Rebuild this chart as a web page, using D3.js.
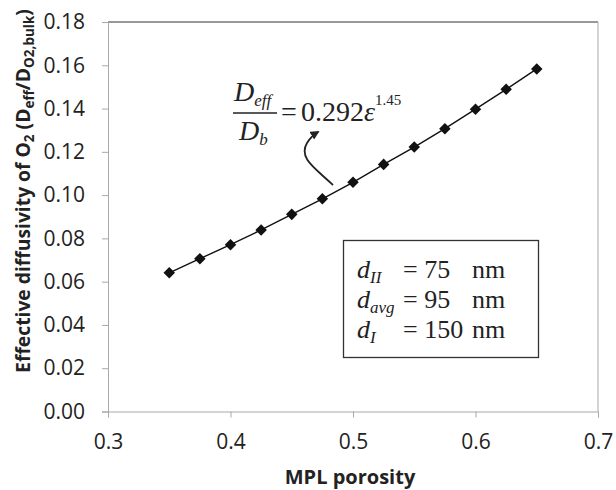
<!DOCTYPE html>
<html lang="en">
<head>
    <meta charset="UTF-8">
    <title>Effective diffusivity vs MPL porosity</title>
    <script src="https://d3js.org/d3.v7.min.js"></script>
    <style>
        body { margin: 0; background: #fff; }
        svg { display: block; }
        .tick text { font-family: "Open Sans", Arial, sans-serif; font-size: 21px; fill: #222; }
        .axis path, .axis line { stroke: #a8a8a8; }
        .eq { font-family: "Liberation Serif", "Times New Roman", serif; fill: #222; }
    </style>
</head>
<body>
<script>
    // data
    const porosity = [0.35, 0.375, 0.4, 0.425, 0.45, 0.475, 0.5, 0.525, 0.55, 0.575, 0.6, 0.625, 0.65];
    const diffusivity = [0.0641, 0.0706, 0.0771, 0.0839, 0.0911, 0.0983, 0.1059, 0.1142, 0.1222, 0.1307, 0.1397, 0.1489, 0.1583];
    const xTicks = [0.3, 0.4, 0.5, 0.6, 0.7];
    const yTicks = [0, 0.02, 0.04, 0.06, 0.08, 0.10, 0.12, 0.14, 0.16, 0.18];
    const boxLines = [
        { d: "II", val: "= 75", unit: "nm" },
        { d: "avg", val: "= 95", unit: "nm" },
        { d: "I", val: "= 150", unit: "nm" }
    ];

    const w = 616, h = 490;
    const pLeft = 108, pRight = 598, pTop = 22, pBottom = 411.5;

    const x = d3.scaleLinear().domain([0.3, 0.7]).range([pLeft, pRight]);
    const y = d3.scaleLinear().domain([0, 0.18]).range([pBottom, pTop]);

    const svg = d3.select("body").append("svg").attr("width", w).attr("height", h);

    // top and right frame
    svg.append("line").attr("x1", pLeft).attr("x2", pRight).attr("y1", pTop).attr("y2", pTop)
        .attr("stroke", "#333").attr("stroke-width", 1.2);
    svg.append("line").attr("x1", pRight).attr("x2", pRight).attr("y1", pTop).attr("y2", pBottom)
        .attr("stroke", "#a8a8a8");

    svg.append("g").attr("class", "axis")
        .attr("transform", `translate(0,${pBottom})`)
        .call(d3.axisBottom(x).tickValues(xTicks).tickFormat(d3.format(".1f")).tickSizeOuter(0).tickSize(6).tickPadding(17));

    svg.append("g").attr("class", "axis")
        .attr("transform", `translate(${pLeft},0)`)
        .call(d3.axisLeft(y).tickValues(yTicks).tickFormat(d3.format(".2f")).tickSizeOuter(0).tickSize(6).tickPadding(17));

    // axis titles
    svg.append("text")
        .attr("x", 350).attr("y", 484)
        .attr("text-anchor", "middle")
        .style("font-family", "'Open Sans', Arial, sans-serif")
        .style("font-size", "20px").style("font-weight", "bold").attr("fill", "#222")
        .text("MPL porosity");

    const yl = svg.append("text")
        .attr("transform", "translate(30,191) rotate(-90)")
        .attr("text-anchor", "middle")
        .style("font-family", "'Open Sans', Arial, sans-serif")
        .style("font-size", "19.3px").style("font-weight", "bold").attr("fill", "#222");
    yl.append("tspan").text("Effective diffusivity of O");
    yl.append("tspan").attr("dy", 4).style("font-size", "13.5px").text("2");
    yl.append("tspan").attr("dy", -4).text(" (D");
    yl.append("tspan").attr("dy", 4).style("font-size", "13.5px").text("eff");
    yl.append("tspan").attr("dy", -4).text("/D");
    yl.append("tspan").attr("dy", 4).style("font-size", "13.5px").text("O2,bulk");
    yl.append("tspan").attr("dy", -4).text(")");

    // series
    const pts = porosity.map((p, i) => [p, diffusivity[i]]);
    svg.append("path")
        .datum(pts)
        .attr("fill", "none").attr("stroke", "#111").attr("stroke-width", 1.4)
        .attr("d", d3.line().x(d => x(d[0])).y(d => y(d[1])));

    svg.selectAll(".pt")
        .data(pts)
        .enter().append("path")
        .attr("class", "pt")
        .attr("transform", d => `translate(${x(d[0])},${y(d[1])})`)
        .attr("d", d3.symbol().type(d3.symbolDiamond2).size(85))
        .attr("fill", "#111");

    // equation
    const eq = svg.append("g").attr("class", "eq");
    const t1 = eq.append("text").attr("x", 234).attr("y", 101).style("font-size", "28px").style("font-style", "italic");
    t1.append("tspan").text("D");
    t1.append("tspan").attr("dy", 5).style("font-size", "17px").text("eff");
    eq.append("line").attr("x1", 233).attr("x2", 277).attr("y1", 113).attr("y2", 113)
        .attr("stroke", "#222").attr("stroke-width", 1.6);
    const t2 = eq.append("text").attr("x", 239).attr("y", 140).style("font-size", "28px").style("font-style", "italic");
    t2.append("tspan").text("D");
    t2.append("tspan").attr("dy", 5).style("font-size", "17px").text("b");
    eq.append("text").attr("x", 281).attr("y", 121).style("font-size", "28px").text("=");
    const t3 = eq.append("text").attr("x", 301).attr("y", 121).style("font-size", "28px");
    t3.append("tspan").text("0.292");
    t3.append("tspan").style("font-style", "italic").text("ε");
    t3.append("tspan").attr("dy", -16).style("font-size", "15px").text("1.45");

    // curved arrow
    svg.append("defs").append("marker")
        .attr("id", "ah").attr("viewBox", "0 0 10 10").attr("refX", 8).attr("refY", 5)
        .attr("markerWidth", 5).attr("markerHeight", 5).attr("orient", "auto")
        .append("path").attr("d", "M0,0 L10,5 L0,10 Z").attr("fill", "#222");
    svg.append("path")
        .attr("d", "M333,185 C315,168 298,158 307,143 C310,138 313,135 318,132")
        .attr("fill", "none").attr("stroke", "#222").attr("stroke-width", 1.8)
        .attr("marker-end", "url(#ah)");

    // parameter box
    svg.append("rect").attr("x", 343.5).attr("y", 240.5).attr("width", 195).attr("height", 117)
        .attr("fill", "#fff").attr("stroke", "#333").attr("stroke-width", 1.3);
    const bl = svg.append("g").attr("class", "eq");
    boxLines.forEach((r, i) => {
        const yy = 278 + i * 30;
        const t = bl.append("text").attr("x", 357).attr("y", yy).style("font-size", "26px");
        t.append("tspan").style("font-style", "italic").text("d");
        t.append("tspan").attr("dy", 5).style("font-size", "17px").style("font-style", "italic").text(r.d);
        bl.append("text").attr("x", 403).attr("y", yy).style("font-size", "26px").text(r.val);
        bl.append("text").attr("x", 472).attr("y", yy).style("font-size", "26px").text(r.unit);
    });
</script>
</body>
</html>
